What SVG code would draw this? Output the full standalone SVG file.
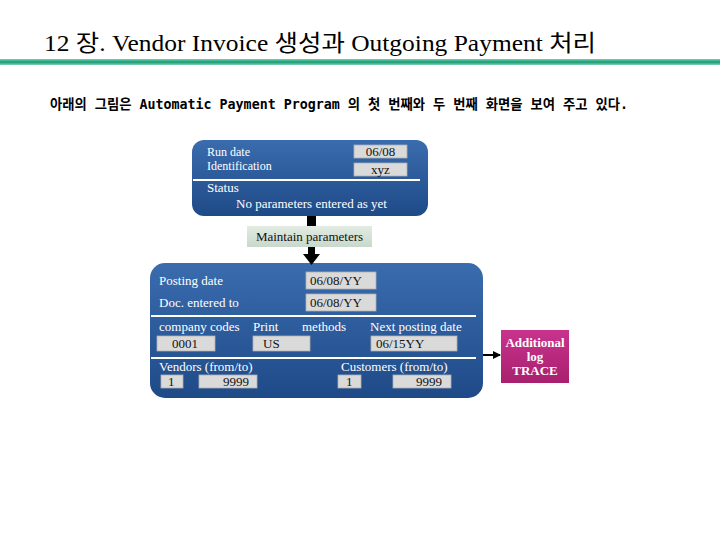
<svg xmlns="http://www.w3.org/2000/svg" width="720" height="540" viewBox="0 0 720 540">
<defs>
<linearGradient id="blue" x1="0" y1="0" x2="0" y2="1">
<stop offset="0" stop-color="#3a6cae"/>
<stop offset="1" stop-color="#1f4a88"/>
</linearGradient>
<linearGradient id="green" x1="0" y1="0" x2="0" y2="1">
<stop offset="0" stop-color="#7fd0b4"/>
<stop offset="0.5" stop-color="#149c72"/>
<stop offset="1" stop-color="#7fd0b4"/>
</linearGradient>
<linearGradient id="mag" x1="0" y1="0" x2="0" y2="1">
<stop offset="0" stop-color="#c8338e"/>
<stop offset="1" stop-color="#a8206e"/>
</linearGradient>
<linearGradient id="pale" x1="0" y1="0" x2="0" y2="1">
<stop offset="0" stop-color="#e2ece2"/>
<stop offset="1" stop-color="#c9d8cc"/>
</linearGradient>
<marker id="ah" markerWidth="8" markerHeight="8" refX="7" refY="4" orient="auto" markerUnits="userSpaceOnUse">
<path d="M0,0 L8,4 L0,8 z" fill="#000"/>
</marker>
</defs>
<style>
.lbl{font-family:"Liberation Serif","Times New Roman",serif;font-size:13px;fill:#fff}
.sm{font-size:12px}
.val{font-family:"Liberation Serif","Times New Roman",serif;font-size:13px;fill:#111}
.fld{fill:#dadada;stroke:#b0b0b0;stroke-width:0.8}
.sep{stroke:#fff;stroke-width:2}
.trc{font-family:"Liberation Serif","Times New Roman",serif;font-size:13px;font-weight:bold;fill:#fff;text-anchor:middle}
</style>
<rect width="720" height="540" fill="#fff"/>
<text x="44" y="51" font-family="'Liberation Serif','Noto Sans CJK KR',serif" font-size="23" fill="#000" textLength="552" lengthAdjust="spacingAndGlyphs">12 장. Vendor Invoice 생성과 Outgoing Payment 처리</text>
<rect x="0" y="59" width="720" height="6" fill="url(#green)"/>
<text x="50" y="109" font-family="'DejaVu Sans Mono','Noto Sans CJK KR',monospace" font-size="14" font-weight="bold" fill="#000" textLength="578" lengthAdjust="spacingAndGlyphs">아래의 그림은 Automatic Payment Program 의 첫 번째와 두 번째 화면을 보여 주고 있다.</text>

<g id="screen1">
<rect x="192" y="140" width="236" height="76" rx="12" fill="url(#blue)"/>
<text class="lbl sm" x="207" y="156">Run date</text>
<text class="lbl sm" x="207" y="170">Identification</text>
<rect class="fld" x="354" y="145" width="53" height="13"/>
<text class="val" x="380.5" y="156" text-anchor="middle">06/08</text>
<rect class="fld" x="354" y="163" width="53" height="13"/>
<text class="val" x="380.5" y="174" text-anchor="middle">xyz</text>
<line class="sep" x1="193" y1="180" x2="420" y2="180"/>
<text class="lbl" x="207" y="192">Status</text>
<text class="lbl" x="236" y="208">No parameters entered as yet</text>
</g>

<g id="maintain">
<rect x="247" y="226" width="125" height="21" fill="url(#pale)"/>
<text class="val" x="309.5" y="241" text-anchor="middle">Maintain parameters</text>
</g>

<g id="screen2">
<rect x="150" y="263" width="333" height="135" rx="15" fill="url(#blue)"/>
<text class="lbl" x="159" y="285">Posting date</text>
<rect class="fld" x="306" y="272" width="70" height="17"/>
<text class="val" x="310" y="285">06/08/YY</text>
<text class="lbl" x="159" y="307">Doc. entered to</text>
<rect class="fld" x="306" y="294" width="70" height="17"/>
<text class="val" x="310" y="307">06/08/YY</text>
<line class="sep" x1="151" y1="316" x2="476" y2="316"/>
<text class="lbl" x="159" y="331">company codes</text>
<text class="lbl" x="253" y="331">Print</text>
<text class="lbl" x="302" y="331">methods</text>
<text class="lbl" x="370" y="331">Next posting date</text>
<rect class="fld" x="157" y="336" width="58" height="15"/>
<text class="val" x="172" y="348">0001</text>
<rect class="fld" x="253" y="336" width="57" height="15"/>
<text class="val" x="263" y="348">US</text>
<rect class="fld" x="371" y="336" width="86" height="15"/>
<text class="val" x="376" y="348">06/15YY</text>
<line class="sep" x1="151" y1="358" x2="476" y2="358"/>
<text class="lbl" x="159" y="371">Vendors (from/to)</text>
<text class="lbl" x="341" y="371">Customers (from/to)</text>
<rect class="fld" x="161" y="375" width="22" height="13"/>
<text class="val" x="168" y="386">1</text>
<rect class="fld" x="199" y="375" width="58" height="13"/>
<text class="val" x="223" y="386">9999</text>
<rect class="fld" x="338" y="375" width="23" height="13"/>
<text class="val" x="346" y="386">1</text>
<rect class="fld" x="393" y="375" width="58" height="13"/>
<text class="val" x="416" y="386">9999</text>
</g>

<g id="trace">
<rect x="501" y="330" width="68" height="53" fill="url(#mag)"/>
<text class="trc" x="535" y="347">Additional</text>
<text class="trc" x="535" y="361">log</text>
<text class="trc" x="535" y="375">TRACE</text>
</g>

<g id="connectors">
<rect x="307" y="216" width="9" height="10" fill="#000"/>
<rect x="308" y="247" width="7" height="8" fill="#000"/>
<path d="M303,254 L320,254 L311.5,265 z" fill="#000"/>
<line x1="483" y1="355" x2="500" y2="355" stroke="#000" stroke-width="2" marker-end="url(#ah)"/>
</g>
</svg>
